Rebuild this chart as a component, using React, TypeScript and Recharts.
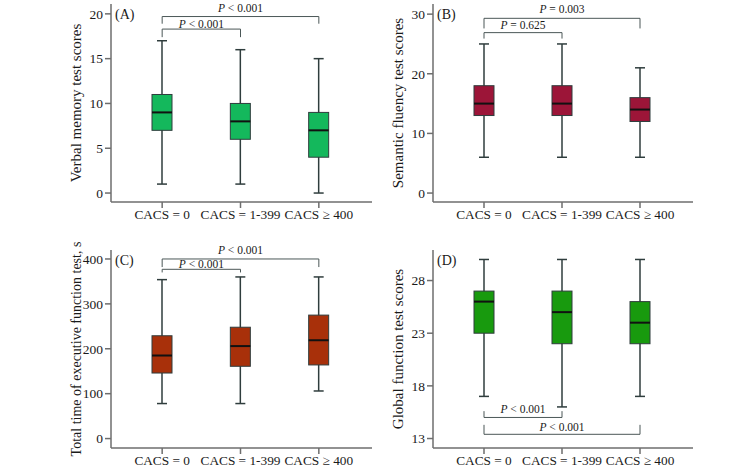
import React from "react";
import { ComposedChart, Bar, XAxis, YAxis, ReferenceLine } from "recharts";

const categories = ["CACS = 0", "CACS = 1-399", "CACS ≥ 400"];

// (A) verbal memory
const verbalMin = [1, 1, 0];
const verbalQ1 = [7, 6, 4];
const verbalMedian = [9, 8, 7];
const verbalQ3 = [11, 10, 9];
const verbalMax = [17, 16, 15];
const verbalTicks = [0, 5, 10, 15, 20];
const verbalPairs = [[0, 2], [0, 1]];
const verbalLevels = [19.7, 18.3];
const verbalTickEnds = [18.9, 17.4];
const verbalP = ["< 0.001", "< 0.001"];

// (B) semantic fluency
const fluencyMin = [6, 6, 6];
const fluencyQ1 = [13, 13, 12];
const fluencyMedian = [15, 15, 14];
const fluencyQ3 = [18, 18, 16];
const fluencyMax = [25, 25, 21];
const fluencyTicks = [0, 10, 20, 30];
const fluencyPairs = [[0, 2], [0, 1]];
const fluencyLevels = [29.3, 26.9];
const fluencyTickEnds = [27.6, 25.9];
const fluencyP = ["= 0.003", "= 0.625"];

// (C) executive function time
const execMin = [78, 78, 106];
const execQ1 = [146, 161, 164];
const execMedian = [185, 206, 219];
const execQ3 = [229, 248, 275];
const execMax = [354, 360, 360];
const execTicks = [0, 100, 200, 300, 400];
const execPairs = [[0, 2], [0, 1]];
const execLevels = [400, 377];
const execTickEnds = [382, 370];
const execP = ["< 0.001", "< 0.001"];

// (D) global function
const globalMin = [17, 16, 17];
const globalQ1 = [23, 22, 22];
const globalMedian = [26, 25, 24];
const globalQ3 = [27, 27, 26];
const globalMax = [30, 30, 30];
const globalTicks = [13, 18, 23, 28];
const globalPairs = [[0, 1], [0, 2]];
const globalLevels = [15.0, 13.4];
const globalTickEnds = [15.6, 14.3];
const globalP = ["< 0.001", "< 0.001"];

const FONT = "'Liberation Serif', 'Times New Roman', serif";
const AXIS = "#6e6e6e";
const WHISKER = "#2f3d3d";
const BRACKET = "#4b5757";

const BoxShape = (props: any) => {
  const { x, y, width, height, payload, fill } = props;
  const top = Math.min(y, y + height);
  const bottom = Math.max(y, y + height);
  const { min, q1, median, q3, max } = payload;
  const py = (v: number) => bottom - ((v - min) / (max - min)) * (bottom - top);
  const cx = x + width / 2;
  return (
    <g>
      <line x1={cx} x2={cx} y1={py(max)} y2={py(min)} stroke={WHISKER} strokeWidth={1.5} />
      <line x1={cx - 5} x2={cx + 5} y1={py(max)} y2={py(max)} stroke={WHISKER} strokeWidth={1.5} />
      <line x1={cx - 5} x2={cx + 5} y1={py(min)} y2={py(min)} stroke={WHISKER} strokeWidth={1.5} />
      <rect x={cx - 10} y={py(q3)} width={20} height={py(q1) - py(q3)} fill={fill} stroke={WHISKER} strokeWidth={1} />
      <line x1={cx - 10} x2={cx + 10} y1={py(median)} y2={py(median)} stroke="#111" strokeWidth={2} />
    </g>
  );
};

interface PanelProps {
  left: number;
  top: number;
  height: number;
  margin: { top: number; right: number; left: number; bottom: number };
  yWidth: number;
  xHeight: number;
  domain: [number, number];
  ticks: number[];
  letter: string;
  yLabel: string;
  yLabelSize: number;
  color: string;
  mins: number[];
  q1s: number[];
  medians: number[];
  q3s: number[];
  maxs: number[];
  pairs: number[][];
  levels: number[];
  tickEnds: number[];
  pTexts: string[];
  labelGaps: number[];
}

const Panel: React.FC<PanelProps> = (p) => {
  const data = categories.map((name, i) => ({
    name,
    range: [p.mins[i], p.maxs[i]],
    min: p.mins[i],
    q1: p.q1s[i],
    median: p.medians[i],
    q3: p.q3s[i],
    max: p.maxs[i],
  }));

  const axisLabel = (lp: any) => {
    const vb = lp.viewBox || {};
    const lx = vb.x + vb.width - 35;
    const ly = vb.y + vb.height / 2;
    return (
      <g>
        <text
          x={lx}
          y={ly}
          transform={`rotate(-90, ${lx}, ${ly})`}
          textAnchor="middle"
          dominantBaseline="central"
          fontFamily={FONT}
          fontSize={p.yLabelSize}
          fill="#1a1a1a"
        >
          {p.yLabel}
        </text>
        <text x={vb.x + vb.width + 4} y={vb.y + 15} fontFamily={FONT} fontSize={14} fill="#1a1a1a">
          {p.letter}
        </text>
      </g>
    );
  };

  const pLabel = (text: string, gap: number) => (lp: any) => {
    const vb = lp.viewBox || {};
    const cx = (vb.x ?? 0) + (vb.width ?? 0) / 2;
    const ly = (vb.y ?? 0) - gap;
    return (
      <text x={cx} y={ly} textAnchor="middle" fontFamily={FONT} fontSize={11.5} fill="#1a1a1a">
        <tspan fontStyle="italic">P</tspan> {text}
      </text>
    );
  };

  return (
    <div style={{ position: "absolute", left: p.left, top: p.top }}>
      <ComposedChart width={378} height={p.height} data={data} margin={p.margin}>
        <XAxis
          dataKey="name"
          height={p.xHeight}
          padding={{ left: 12, right: 14 }}
          stroke={AXIS}
          strokeWidth={1.5}
          tickSize={6}
          tick={{ fontFamily: FONT, fontSize: 13.3, fill: "#1a1a1a" }}
          interval={0}
        />
        <YAxis
          type="number"
          width={p.yWidth}
          domain={p.domain}
          ticks={p.ticks}
          allowDataOverflow
          stroke={AXIS}
          strokeWidth={1.5}
          tickSize={6}
          tick={{ fontFamily: FONT, fontSize: 13.5, fill: "#1a1a1a" }}
          label={{ content: axisLabel }}
        />
        <Bar
          dataKey="range"
          barSize={20}
          fill={p.color}
          isAnimationActive={false}
          shape={(bp: any) => <BoxShape {...bp} fill={p.color} />}
        />
        {p.pairs.map(([a, b], i) => (
          <React.Fragment key={i}>
            <ReferenceLine
              segment={[
                { x: categories[a], y: p.levels[i] },
                { x: categories[b], y: p.levels[i] },
              ]}
              stroke={BRACKET}
              strokeWidth={1}
              label={{ content: pLabel(p.pTexts[i], p.labelGaps[i]) }}
            />
            <ReferenceLine
              segment={[
                { x: categories[a], y: p.levels[i] },
                { x: categories[a], y: p.tickEnds[i] },
              ]}
              stroke={BRACKET}
              strokeWidth={1}
            />
            <ReferenceLine
              segment={[
                { x: categories[b], y: p.levels[i] },
                { x: categories[b], y: p.tickEnds[i] },
              ]}
              stroke={BRACKET}
              strokeWidth={1}
            />
          </React.Fragment>
        ))}
      </ComposedChart>
    </div>
  );
};

export default function App() {
  return (
    <div style={{ position: "absolute", left: 0, top: 0, width: 756, height: 473, background: "#fff" }}>
      <Panel
        left={0}
        top={0}
        height={236}
        margin={{ top: 4, right: 6, left: 0, bottom: 4 }}
        yWidth={111}
        xHeight={30}
        domain={[-1, 21.1]}
        ticks={verbalTicks}
        letter="(A)"
        yLabel="Verbal memory test scores"
        yLabelSize={15}
        color="#14b85c"
        mins={verbalMin}
        q1s={verbalQ1}
        medians={verbalMedian}
        q3s={verbalQ3}
        maxs={verbalMax}
        pairs={verbalPairs}
        levels={verbalLevels}
        tickEnds={verbalTickEnds}
        pTexts={verbalP}
        labelGaps={[5, 1.5]}
      />
      <Panel
        left={378}
        top={0}
        height={236}
        margin={{ top: 4, right: 63, left: 0, bottom: 4 }}
        yWidth={55}
        xHeight={30}
        domain={[-1.5, 31.7]}
        ticks={fluencyTicks}
        letter="(B)"
        yLabel="Semantic fluency test scores"
        yLabelSize={15}
        color="#9c1538"
        mins={fluencyMin}
        q1s={fluencyQ1}
        medians={fluencyMedian}
        q3s={fluencyQ3}
        maxs={fluencyMax}
        pairs={fluencyPairs}
        levels={fluencyLevels}
        tickEnds={fluencyTickEnds}
        pTexts={fluencyP}
        labelGaps={[5.5, 3.7]}
      />
      <Panel
        left={0}
        top={236}
        height={237}
        margin={{ top: 14, right: 6, left: 0, bottom: 0 }}
        yWidth={111}
        xHeight={25}
        domain={[-21, 420]}
        ticks={execTicks}
        letter="(C)"
        yLabel="Total time of executive function test, s"
        yLabelSize={14}
        color="#a8300a"
        mins={execMin}
        q1s={execQ1}
        medians={execMedian}
        q3s={execQ3}
        maxs={execMax}
        pairs={execPairs}
        levels={execLevels}
        tickEnds={execTickEnds}
        pTexts={execP}
        labelGaps={[5, 1]}
      />
      <Panel
        left={378}
        top={236}
        height={237}
        margin={{ top: 14, right: 63, left: 0, bottom: 0 }}
        yWidth={55}
        xHeight={25}
        domain={[12.1, 30.9]}
        ticks={globalTicks}
        letter="(D)"
        yLabel="Global function test scores"
        yLabelSize={15}
        color="#189a0e"
        mins={globalMin}
        q1s={globalQ1}
        medians={globalMedian}
        q3s={globalQ3}
        maxs={globalMax}
        pairs={globalPairs}
        levels={globalLevels}
        tickEnds={globalTickEnds}
        pTexts={globalP}
        labelGaps={[4.6, 3.3]}
      />
    </div>
  );
}
